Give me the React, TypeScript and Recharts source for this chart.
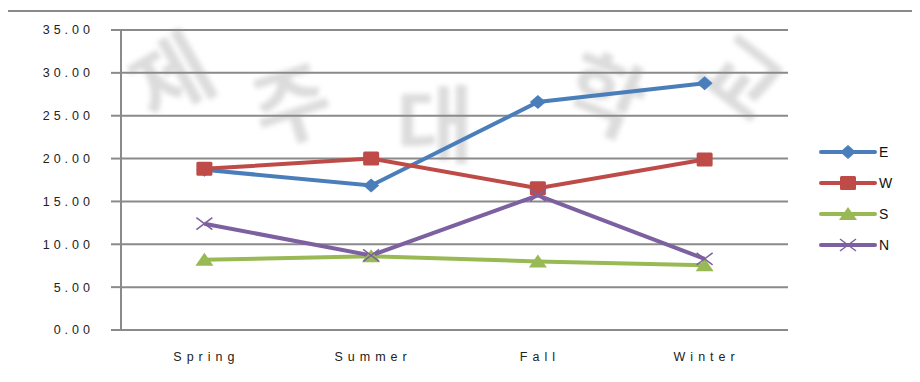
import React from 'react';
import { LineChart, Line, XAxis, YAxis, CartesianGrid } from 'recharts';

const seasons = ['Spring', 'Summer', 'Fall', 'Winter'];
const eValues = [18.7, 16.85, 26.6, 28.8];
const wValues = [18.8, 20.0, 16.55, 19.9];
const sValues = [8.2, 8.6, 8.0, 7.55];
const nValues = [12.4, 8.7, 15.7, 8.3];
const yTicks = [0, 5, 10, 15, 20, 25, 30, 35];
const edgeTicks = [0, 1, 2, 3, 4];

const watermarkChars = ['제', '주', '대', '학', '교'];

const data = seasons.map((season, i) => ({
  season,
  E: eValues[i],
  W: wValues[i],
  S: sValues[i],
  N: nValues[i],
}));

type Marker = 'diamond' | 'square' | 'triangle' | 'cross';

const series: { key: string; color: string; marker: Marker }[] = [
  { key: 'E', color: '#4A7EBB', marker: 'diamond' },
  { key: 'W', color: '#BE4B48', marker: 'square' },
  { key: 'S', color: '#98B954', marker: 'triangle' },
  { key: 'N', color: '#7D60A0', marker: 'cross' },
];

const gridColor = '#8a8a8a';
const font = '"Liberation Sans", Arial, sans-serif';

// excel style markers
const markerShape = (marker: Marker, color: string, cx: number, cy: number, key?: string) => {
  if (marker === 'diamond') {
    return <path key={key} d={`M${cx - 8},${cy} L${cx},${cy - 7} L${cx + 8},${cy} L${cx},${cy + 7} Z`} fill={color} />;
  }
  if (marker === 'square') {
    return <rect key={key} x={cx - 8} y={cy - 7} width={16} height={14} rx={1.5} fill={color} />;
  }
  if (marker === 'triangle') {
    return <path key={key} d={`M${cx - 9},${cy + 6} L${cx},${cy - 7} L${cx + 9},${cy + 6} Z`} fill={color} />;
  }
  return (
    <path
      key={key}
      d={`M${cx - 8},${cy - 6} L${cx + 8},${cy + 6} M${cx - 8},${cy + 6} L${cx + 8},${cy - 6}`}
      stroke={color}
      strokeWidth={1.5}
      fill="none"
    />
  );
};

const makeDot = (marker: Marker, color: string) => (props: any) => {
  const { cx, cy, index } = props;
  if (cx == null || cy == null) return <g key={index} />;
  return <g key={index}>{markerShape(marker, color, cx, cy)}</g>;
};

const YTick = (props: any) => {
  const { x, y, payload } = props;
  return (
    <text x={x + 4} y={y} dy="0.35em" textAnchor="end" fill="#222" fontSize={12.5} fontFamily={font} letterSpacing={4}>
      {Number(payload.value).toFixed(2)}
    </text>
  );
};

const XTick = (props: any) => {
  const { x, y, payload } = props;
  return (
    <text x={x + 2} y={y} dy="0.71em" textAnchor="middle" fill="#222" fontSize={12.5} fontFamily={font} letterSpacing={5}>
      {payload.value}
    </text>
  );
};

const Legend = () => (
  <div style={{ position: 'absolute', left: 818, top: 136 }}>
    {series.map((s) => (
      <div key={s.key} style={{ display: 'flex', alignItems: 'center', height: 31 }}>
        <svg width={60} height={20}>
          <line x1={3} y1={10} x2={57} y2={10} stroke={s.color} strokeWidth={4} strokeLinecap="round" />
          {markerShape(s.marker, s.color, 30, 10)}
        </svg>
        <span style={{ fontFamily: font, fontSize: 14, color: '#111', marginLeft: 1 }}>{s.key}</span>
      </div>
    ))}
  </div>
);

// faint background watermark, drawn in one svg so the glyphs stay inside the page
const watermarkPos = [
  { x: 172, y: 78, rot: -30 },
  { x: 292, y: 106, rot: -18 },
  { x: 435, y: 126, rot: 0 },
  { x: 605, y: 96, rot: 22 },
  { x: 740, y: 78, rot: 38 },
];

const Watermark = () => (
  <svg width={920} height={382} style={{ position: 'absolute', left: 0, top: 0, filter: 'blur(2.5px)' }}>
    {watermarkChars.map((ch, i) => (
      <text
        key={ch}
        x={watermarkPos[i].x}
        y={watermarkPos[i].y}
        dy="0.36em"
        textAnchor="middle"
        transform={`rotate(${watermarkPos[i].rot} ${watermarkPos[i].x} ${watermarkPos[i].y})`}
        fontFamily='"Noto Sans CJK KR", sans-serif'
        fontWeight={700}
        fontSize={84}
        fill="#dcdcdc"
      >
        {ch}
      </text>
    ))}
  </svg>
);

export default function App() {
  return (
    <div style={{ position: 'relative', width: 920, height: 382, margin: -8, background: '#fff', overflow: 'hidden' }}>
      <Watermark />
      <div
        style={{
          position: 'absolute',
          left: 6,
          top: 10,
          width: 914,
          height: 372,
          borderTop: `2px solid ${gridColor}`,
          borderLeft: `2px solid ${gridColor}`,
        }}
      />
      <div style={{ position: 'absolute', left: 0, top: 0 }}>
        <LineChart width={920} height={382} data={data} margin={{ top: 30, right: 132, bottom: 12, left: 0 }}>
          <CartesianGrid horizontal vertical={false} stroke={gridColor} strokeWidth={2} />
          <XAxis
            dataKey="season"
            scale="band"
            height={40}
            tickLine={false}
            axisLine={false}
            tickSize={0}
            tickMargin={22}
            tick={<XTick />}
          />
          <XAxis
            xAxisId="edge"
            type="number"
            domain={[0, 4]}
            ticks={edgeTicks}
            allowDataOverflow
            mirror
            height={0}
            tickSize={-5}
            tickFormatter={() => ''}
            stroke={gridColor}
            axisLine={{ stroke: gridColor, strokeWidth: 2 }}
            tickLine={{ stroke: gridColor, strokeWidth: 2 }}
          />
          <YAxis
            width={121}
            domain={[0, 35]}
            ticks={yTicks}
            interval={0}
            tickSize={10}
            tickMargin={21}
            tick={<YTick />}
            axisLine={{ stroke: gridColor, strokeWidth: 2 }}
            tickLine={{ stroke: gridColor, strokeWidth: 2 }}
          />
          {series.map((s) => (
            <Line
              key={s.key}
              dataKey={s.key}
              stroke={s.color}
              strokeWidth={4}
              type="linear"
              dot={makeDot(s.marker, s.color)}
              activeDot={false}
              isAnimationActive={false}
            />
          ))}
        </LineChart>
      </div>
      <Legend />
    </div>
  );
}
